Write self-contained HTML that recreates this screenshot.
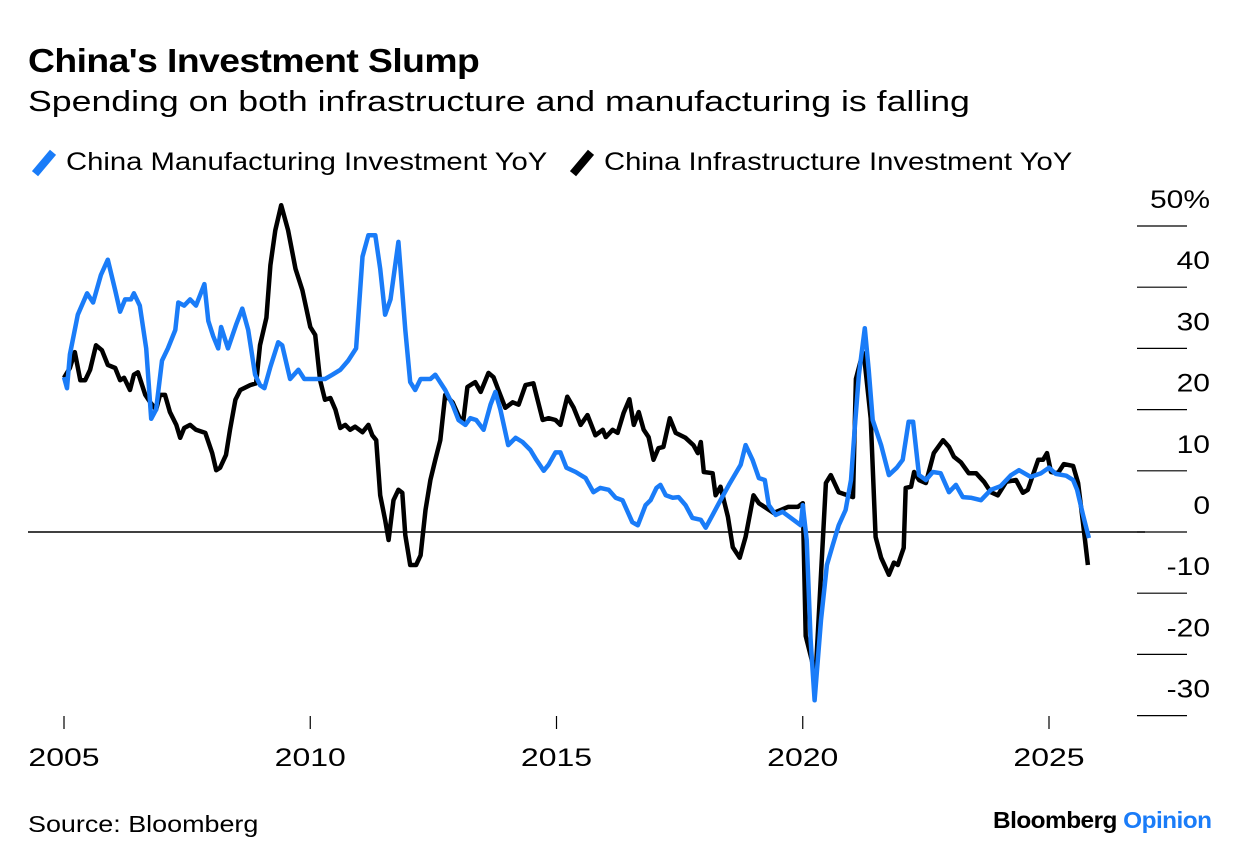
<!DOCTYPE html>
<html><head><meta charset="utf-8"><style>
body{margin:0;background:#fff;font-family:"Liberation Sans",Arial,sans-serif;}
#wrap{position:relative;width:1240px;height:866px;overflow:hidden;background:#fff}
.t{position:absolute;white-space:nowrap;color:#000;transform-origin:0 0}
</style></head><body>
<div id="wrap">
<div class="t" style="left:28px;top:42px;font-size:33px;font-weight:bold;letter-spacing:-0.5px;transform:scaleX(1.13)">China's Investment Slump</div>
<div class="t" style="left:28px;top:86px;font-size:29px;transform:scaleX(1.23)">Spending on both infrastructure and manufacturing is falling</div>
<div style="position:absolute;left:40px;top:149px;width:8px;height:28px;background:#1a7cf8;transform:rotate(40deg)"></div>
<div class="t" style="left:66px;top:148px;font-size:25px;transform:scaleX(1.17)">China Manufacturing Investment YoY</div>
<div style="position:absolute;left:578px;top:149px;width:8px;height:28px;background:#000;transform:rotate(40deg)"></div>
<div class="t" style="left:604px;top:148px;font-size:25px;transform:scaleX(1.17)">China Infrastructure Investment YoY</div>
<svg id="plot" width="1240" height="866" style="position:absolute;left:0;top:0"></svg>
<div class="t" style="left:28px;top:811px;font-size:23px;transform:scaleX(1.17)">Source: Bloomberg</div>
<div class="t" style="left:993px;top:807px;font-size:23px;font-weight:bold;letter-spacing:-0.5px;transform:scaleX(1.06)">Bloomberg <span style="color:#1a7cf8">Opinion</span></div>
</div>
<script>
const yTicks=[50,40,30,20,10,0,-10,-20,-30];
const yTickLabels=["50%","40","30","20","10","0","-10","-20","-30"];
const xTicks=[2005,2010,2015,2020,2025];
const infraDates=[2005.00,2005.12,2005.22,2005.33,2005.43,2005.53,2005.65,2005.77,2005.89,2006.04,2006.14,2006.22,2006.34,2006.42,2006.50,2006.65,2006.75,2006.87,2006.95,2007.05,2007.15,2007.28,2007.36,2007.44,2007.56,2007.68,2007.87,2008.01,2008.09,2008.17,2008.29,2008.37,2008.48,2008.58,2008.78,2008.90,2008.98,2009.11,2009.19,2009.29,2009.41,2009.55,2009.70,2009.84,2010.00,2010.10,2010.20,2010.30,2010.41,2010.51,2010.61,2010.71,2010.81,2010.91,2011.06,2011.18,2011.26,2011.34,2011.42,2011.52,2011.59,2011.69,2011.79,2011.87,2011.93,2012.03,2012.15,2012.24,2012.34,2012.44,2012.54,2012.64,2012.74,2012.89,2013.05,2013.11,2013.19,2013.35,2013.46,2013.62,2013.72,2013.82,2013.96,2014.11,2014.23,2014.37,2014.53,2014.72,2014.84,2014.98,2015.08,2015.22,2015.35,2015.49,2015.63,2015.79,2015.94,2016.00,2016.14,2016.24,2016.36,2016.48,2016.57,2016.67,2016.77,2016.87,2016.97,2017.07,2017.17,2017.30,2017.42,2017.62,2017.78,2017.87,2017.93,2017.99,2018.17,2018.23,2018.33,2018.48,2018.58,2018.72,2018.84,2019.00,2019.11,2019.41,2019.70,2019.90,2020.00,2020.06,2020.26,2020.47,2020.57,2020.73,2021.02,2021.08,2021.18,2021.24,2021.38,2021.48,2021.59,2021.75,2021.85,2021.93,2022.05,2022.09,2022.20,2022.26,2022.36,2022.50,2022.66,2022.85,2022.97,2023.07,2023.21,2023.37,2023.52,2023.68,2023.82,2023.96,2024.13,2024.33,2024.47,2024.57,2024.78,2024.88,2024.96,2025.04,2025.18,2025.30,2025.49,2025.59,2025.69,2025.79];
const infraValues=[25.2,26.8,29.4,24.8,24.8,26.5,30.5,29.7,27.3,26.8,24.8,25.2,23.2,25.7,26.1,22.4,21.2,20.0,22.4,22.4,19.6,17.5,15.4,17.0,17.5,16.7,16.2,12.9,10.1,10.5,12.6,16.7,21.6,23.2,24.0,24.3,30.5,35.0,43.6,49.3,53.4,49.3,43.0,39.5,33.5,32.2,24.8,21.6,21.9,20.0,17.0,17.5,16.7,17.2,16.3,17.5,15.8,15.0,6.0,2.0,-1.3,5.2,6.9,6.4,-0.5,-5.4,-5.4,-3.8,3.6,8.5,11.8,15.0,22.4,21.2,18.3,18.3,23.7,24.5,22.9,26.0,25.3,23.2,20.3,21.2,20.8,24.0,24.3,18.3,18.6,18.3,17.5,22.1,20.3,17.5,19.1,15.8,16.7,15.5,16.7,16.2,19.4,21.7,17.5,19.6,16.7,15.5,11.8,13.7,13.9,18.6,16.2,15.4,14.2,12.9,14.7,9.8,9.6,6.0,7.4,2.5,-2.5,-4.2,-0.8,6.0,4.7,3.1,4.1,4.1,4.7,-17.0,-23.4,8.0,9.3,6.5,5.7,25.0,28.1,29.2,18.6,-0.8,-4.2,-7.0,-5.0,-5.4,-2.6,7.2,7.4,9.8,8.5,8.0,12.9,15.0,13.9,12.3,11.4,9.6,9.6,8.2,6.5,6.0,8.2,8.5,6.4,6.9,11.8,11.8,12.9,9.8,9.6,11.1,10.8,8.0,1.5,-5.4];
const mfgDates=[2005.00,2005.06,2005.12,2005.28,2005.47,2005.59,2005.75,2005.89,2006.04,2006.14,2006.24,2006.36,2006.42,2006.54,2006.67,2006.77,2006.87,2006.99,2007.11,2007.26,2007.32,2007.44,2007.56,2007.68,2007.85,2007.93,2008.03,2008.13,2008.19,2008.33,2008.50,2008.62,2008.74,2008.88,2008.98,2009.07,2009.19,2009.35,2009.43,2009.59,2009.76,2009.88,2010.04,2010.16,2010.30,2010.45,2010.61,2010.77,2010.93,2011.06,2011.18,2011.32,2011.42,2011.52,2011.63,2011.79,2011.93,2012.03,2012.13,2012.24,2012.44,2012.54,2012.74,2012.89,2013.01,2013.15,2013.25,2013.37,2013.52,2013.66,2013.76,2013.86,2014.02,2014.17,2014.31,2014.47,2014.59,2014.74,2014.84,2014.98,2015.08,2015.20,2015.39,2015.59,2015.75,2015.89,2016.06,2016.20,2016.34,2016.54,2016.65,2016.81,2016.91,2017.03,2017.11,2017.22,2017.36,2017.48,2017.62,2017.76,2017.93,2018.03,2018.17,2018.33,2018.50,2018.74,2018.84,2018.98,2019.11,2019.23,2019.31,2019.45,2019.59,2019.76,2019.96,2020.00,2020.08,2020.16,2020.24,2020.37,2020.49,2020.61,2020.73,2020.87,2020.98,2021.06,2021.14,2021.26,2021.34,2021.42,2021.59,2021.75,2021.91,2022.03,2022.15,2022.24,2022.36,2022.50,2022.64,2022.80,2022.97,2023.11,2023.25,2023.41,2023.62,2023.82,2024.02,2024.23,2024.39,2024.63,2024.84,2025.00,2025.14,2025.35,2025.49,2025.57,2025.69,2025.81];
const mfgValues=[25.3,23.5,29,35.5,39,37.5,42,44.5,39.5,36,38,38,39,37,30,18.5,20,28,30,33,37.5,37,38,37,40.5,34.5,32,30,33.5,30,34,36.5,33,25.7,24,23.5,27,31,30.5,25,26.5,25,25,25,25,25.7,26.5,28,30,45,48.5,48.5,43,35.5,38,47.4,33,24.5,23.2,25,25,25.7,23.2,20.8,18.3,17.5,18.6,18.3,16.7,20.8,22.9,20,14.2,15.4,14.7,13.4,11.8,10,11,13,13,10.5,9.8,8.8,6.5,7.2,6.9,5.6,5.2,1.6,1.1,4.4,5.2,7.2,7.7,6,5.6,5.7,4.4,2.3,2,0.7,2.8,5.2,7.7,11,14.2,11.8,8.8,8.5,4.4,2.8,3.3,2.3,1.1,4.4,-1.3,-17.6,-27.5,-14.4,-5.4,-2.1,1.1,3.6,8.5,17.5,25.7,33.3,26.5,18.3,14.2,9.3,10.5,11.8,18,18,9.3,8.5,9.8,9.6,6.5,7.7,5.7,5.6,5.2,6.9,7.5,9.3,10.1,9,9.6,10.5,9.5,9.2,8.5,6.9,2.8,-1];

const NS="http://www.w3.org/2000/svg";
const svg=document.getElementById('plot');
function xS(yr){return 64+(yr-2005)*49.25;}
function yS(v){return 532-v*6.12;}
function mk(tag,attrs){const e=document.createElementNS(NS,tag);for(const k in attrs)e.setAttribute(k,attrs[k]);svg.appendChild(e);return e;}

yTicks.forEach((t,i)=>{
  const l=mk('line',{x1:1137,x2:1187,y1:yS(t),y2:yS(t),stroke:'#000','stroke-width':1.2});
  
  
  const tx=mk('text',{x:0,y:0,transform:'translate(1210,'+(yS(t)-18)+') scale(1.2,1)','text-anchor':'end','font-size':25,'font-family':'Liberation Sans, sans-serif'});
  tx.textContent=yTickLabels[i];
  
  
});
const zl=mk('line',{x1:28,x2:1145,y1:yS(0),y2:yS(0),stroke:'#000','stroke-width':1.4});


xTicks.forEach(t=>{
  const l=mk('line',{x1:xS(t),x2:xS(t),y1:716,y2:729,stroke:'#000','stroke-width':1.2});
  
  
  const tx=mk('text',{x:0,y:0,transform:'translate('+xS(t)+',766) scale(1.28,1)','text-anchor':'middle','font-size':25,'font-family':'Liberation Sans, sans-serif'});
  tx.textContent=String(t);
  
  
});
function pathOf(ds,vs){return ds.map((d,i)=>(i?'L':'M')+xS(d).toFixed(1)+','+yS(vs[i]).toFixed(1)).join('');}
const p1=mk('path',{d:pathOf(infraDates,infraValues),fill:'none',stroke:'#000','stroke-width':4.5,'stroke-linejoin':'round'});


const p2=mk('path',{d:pathOf(mfgDates,mfgValues),fill:'none',stroke:'#1a7cf8','stroke-width':4.5,'stroke-linejoin':'round'});


</script>
</body></html>
